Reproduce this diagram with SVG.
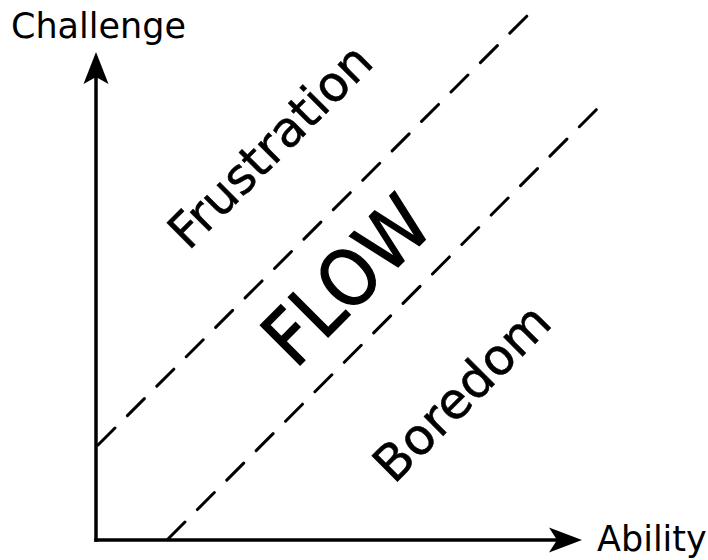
<svg xmlns="http://www.w3.org/2000/svg" width="708" height="560" viewBox="0 0 708 560">
<style>
.t{font-family:"DejaVu Sans","Liberation Sans",sans-serif;fill:#000}
.axis{stroke:#000;stroke-width:3.5;fill:none}
.dash{stroke:#000;stroke-width:3;fill:none;stroke-linecap:round;stroke-dasharray:24 17.6}
</style>
<rect width="708" height="560" fill="#fff"/>
<g id="connectors">
<line class="dash" x1="98" y1="445" x2="527" y2="16"/>
<line class="dash" x1="168" y1="539" x2="597" y2="109"/>
<line class="axis" x1="96" y1="541.7" x2="96" y2="70"/>
<line class="axis" x1="94.3" y1="540" x2="565" y2="540"/>
<path d="M96,52 L108.5,84 L96,77 L83.5,84 Z" fill="#000"/>
<path d="M582,540 L549,552.5 L557,540 L549,527.5 Z" fill="#000"/>
</g>
<g id="challenge"><text class="t" x="11" y="38" font-size="35">Challenge</text></g>
<g id="ability"><text class="t" x="597" y="551" font-size="35">Ability</text></g>
<g id="frustration"><text class="t" font-size="49" stroke="#000" stroke-width="0.5" text-anchor="middle" transform="translate(282,158) rotate(-45)">Frustration</text></g>
<g id="flow"><text class="t" font-size="77" stroke="#000" stroke-width="1.4" text-anchor="middle" textLength="199" lengthAdjust="spacingAndGlyphs" transform="translate(365.5,299.5) rotate(-45)">FLOW</text></g>
<g id="boredom"><text class="t" font-size="50" stroke="#000" stroke-width="0.5" text-anchor="middle" transform="translate(474,405) rotate(-45)">Boredom</text></g>
</svg>
